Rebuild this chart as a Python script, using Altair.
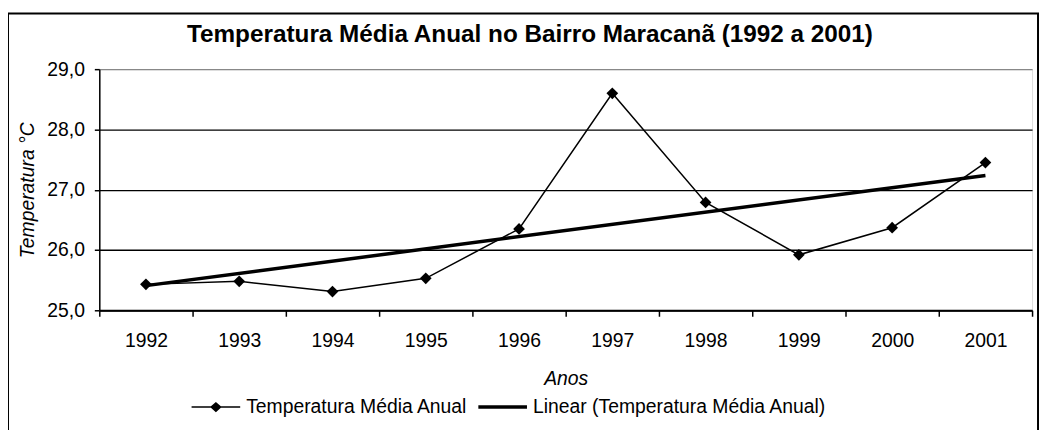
import altair as alt
import pandas as pd

years = [1992, 1993, 1994, 1995, 1996, 1997, 1998, 1999, 2000, 2001]
temps = [25.43, 25.48, 25.31, 25.53, 26.35, 28.60, 26.79, 25.92, 26.37, 27.45]
series_names = ["Temperatura Média Anual", "Linear (Temperatura Média Anual)"]
y_ticks = [25, 26, 27, 28, 29]

FONT = "Liberation Sans"
FS = 19.5

df = pd.DataFrame({"year": years, "temp": temps})
legend_df = pd.DataFrame({"series": series_names})
frame_df = pd.DataFrame({"k": [0]})

y_enc = alt.Y(
    "temp:Q",
    scale=alt.Scale(domain=[25, 29], nice=False, zero=False),
    axis=alt.Axis(
        values=y_ticks,
        title="Temperatura °C",
        titleFont=FONT, titleFontSize=FS, titleFontStyle="italic",
        titleFontWeight="normal", titleColor="black", titlePadding=9,
        labelFont=FONT, labelFontSize=FS, labelColor="black", labelPadding=10,
        labelExpr="replace(format(datum.value, '.1f'), '.', ',')",
        tickSize=5, tickColor="black", tickWidth=1.5,
        domainColor="black", domainWidth=1.5,
        grid=True, gridWidth=1.3,
        gridColor={"condition": {"test": "datum.value >= 29", "value": "#888888"}, "value": "black"},
    ),
)

x_enc = alt.X(
    "year:O",
    bandPosition=0.5,
    scale=alt.Scale(type="band", paddingInner=0, paddingOuter=0),
    axis=alt.Axis(
        title="Anos", titleFont=FONT, titleFontSize=FS, titleFontStyle="italic",
        titleFontWeight="normal", titleColor="black", titlePadding=20,
        labelFont=FONT, labelFontSize=FS, labelColor="black", labelAngle=0,
        labelPadding=15, tickBand="extent", tickSize=6, tickColor="black",
        tickWidth=1.5, domainColor="black", domainWidth=2, grid=False,
        orient="bottom",
    ),
)

frame = alt.Chart(frame_df).mark_rect(
    fill=None, stroke="black", strokeWidth=2, clip=False
).encode(
    x=alt.value(-92), x2=alt.value(946), y=alt.value(-56), y2=alt.value(400)
)

trend = alt.Chart(df).transform_regression("year", "temp", method="linear").mark_line(
    color="black", strokeWidth=3.5
).encode(
    x=alt.X("year:Q", scale=alt.Scale(domain=[1991.5, 2001.5], nice=False, zero=False), axis=None),
    y=alt.Y("temp:Q", scale=alt.Scale(domain=[25, 29], nice=False, zero=False)),
)

line = alt.Chart(df).mark_line(
    color="black", strokeWidth=1.5,
    point=alt.OverlayMarkDef(shape="diamond", filled=True, color="black", size=140, opacity=1),
).encode(x=x_enc, y=y_enc)

path1 = "M-1,-0.031L1,-0.031L1,0.031L-1,0.031Z M0,-0.21L0.24,0L0,0.21L-0.24,0Z"
path2 = "M-1,-0.072L1,-0.072L1,0.072L-1,0.072Z"

legend_layer = alt.Chart(legend_df).mark_point(filled=True, color="black", opacity=0).encode(
    shape=alt.Shape(
        "series:N",
        scale=alt.Scale(domain=series_names, range=[path1, path2]),
        legend=alt.Legend(
            title=None, orient="none", legendX=93, legendY=316,
            direction="horizontal", labelFont=FONT, labelFontSize=FS,
            labelColor="black", symbolSize=2401, symbolStrokeWidth=0,
            symbolOpacity=1, symbolFillColor="black", symbolStrokeColor="black",
            labelOffset=6, columnPadding=10, padding=0, labelLimit=0,
        ),
    )
)

chart = alt.layer(frame, trend, line, legend_layer).resolve_scale(
    x="independent"
).properties(
    width=940,
    height=243,
    autosize=alt.AutoSizeParams(type="none"),
    padding={"left": 92, "top": 60, "right": 8, "bottom": 119},
    title=alt.TitleParams(
        "Temperatura Média Anual no Bairro Maracanã (1992 a 2001)",
        font=FONT, fontSize=24.5, fontWeight="bold", color="black",
        anchor="middle", dx=-36, dy=47, offset=12,
    ),
).configure_view(
    fill="#f6f6f6", stroke="#888888", strokeWidth=1.5
).configure(background="white")

chart.save("out.html", embed_options={"renderer": "svg", "actions": False})
